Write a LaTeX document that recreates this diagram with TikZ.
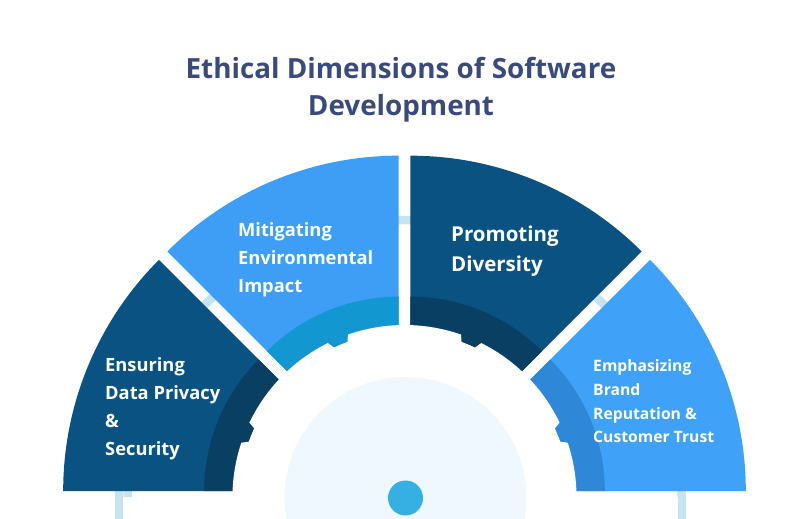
\documentclass[tikz,border=0pt]{standalone}
\usepackage{fontspec}
\setmainfont{Open Sans}
\definecolor{bgc}{HTML}{FFFFFF}
\definecolor{titlec}{HTML}{3A4A7C}
\definecolor{dk}{HTML}{0A5282}
\definecolor{dkband}{HTML}{093F63}
\definecolor{lt}{HTML}{3E9EF6}
\definecolor{ltband}{HTML}{1297D1}
\definecolor{ltb}{HTML}{3FA1F8}
\definecolor{ltbband}{HTML}{2F87D8}
\definecolor{ringc}{HTML}{C6E4F0}
\definecolor{palec}{HTML}{EFF8FE}
\definecolor{dotc}{HTML}{36B0E2}
\tikzset{
  lbl/.style={text=white, font=\bfseries, align=left, anchor=base west, inner sep=0pt},
  ringline/.style={draw=ringc, line width=8.5pt},
}
\begin{document}
\begin{tikzpicture}[x=1pt,y=1pt]
\useasboundingbox (0,0) rectangle (800,519);
\fill[bgc] (0,0) rectangle (800,519);
\coordinate (C) at (404.5,22);
% light ring behind the sectors
\begin{scope}[shift={(C)}]
  \draw[ringline] (0:277pt) arc[start angle=0,end angle=180,radius=277pt];
\end{scope}
\coordinate (rl1) at (119,0);
\coordinate (rl2) at (119,40);
\coordinate (rr1) at (682,0);
\coordinate (rr2) at (682,40);
\draw[ringline] (rl1) -- (rl2);
\draw[ringline] (rr1) -- (rr2);
% sectors
\begin{scope}[shift={(C)}]
\foreach \a/\b/\mc/\bc in {135/180/dk/dkband, 90/135/lt/ltband, 45/90/dk/dkband, 0/45/ltb/ltbband}{
  \pgfmathsetmacro\m{(\a+\b)/2}
  \begin{scope}[shift={(\m:15.5pt)}]
    \fill[\mc] (\a:150pt) -- (\a:327pt) arc[start angle=\a,end angle=\b,radius=327pt] -- (\b:150pt) arc[start angle=\b,end angle=\a,radius=150pt] -- cycle;
    \fill[\bc] (\a:150pt) -- (\a:186pt) arc[start angle=\a,end angle=\b,radius=186pt] -- (\b:150pt) arc[start angle=\b,end angle=\a,radius=150pt] -- cycle;
  \end{scope}
}
% white ratchet gear
\fill[white] (0:172pt) arc[start angle=0,end angle=18.4,radius=172pt] -- (22.2:152pt) -- (25.6:172pt)
  arc[start angle=25.6,end angle=63.5,radius=172pt] -- (67.6:152pt) -- (70.8:172pt)
  arc[start angle=70.8,end angle=109.2,radius=172pt] -- (112.4:152pt) -- (116.5:172pt)
  arc[start angle=116.5,end angle=154.4,radius=172pt] -- (157.8:152pt) -- (161.6:172pt)
  arc[start angle=161.6,end angle=360,radius=172pt] -- cycle;
\end{scope}
\coordinate (D) at (405.5,21);
\fill[palec] (D) circle[radius=121pt];
\node[circle, fill=dotc, minimum size=35pt, inner sep=0pt] (dot) at (D) {};
% title (anchor = baseline of last line)
\node[text=titlec, font=\fontsize{27.8}{37}\selectfont\bfseries, align=center, anchor=base, inner sep=0pt] (title) at (401,403)
  {Ethical Dimensions of Software\\Development};
% labels (anchor = baseline of last line)
\node[lbl, font=\fontsize{18.3}{28}\selectfont\bfseries] (l1) at (105,63) {Ensuring\\Data Privacy\\\&\\Security};
\node[lbl, font=\fontsize{18.3}{28}\selectfont\bfseries] (l2) at (238,226) {Mitigating\\Environmental\\Impact};
\node[lbl, font=\fontsize{20.5}{30}\selectfont\bfseries] (l3) at (451,247) {Promoting\\Diversity};
\node[lbl, font=\fontsize{15.7}{23.7}\selectfont\bfseries] (l4) at (593,76) {Emphasizing\\Brand\\Reputation \&\\Customer Trust};
\end{tikzpicture}
\end{document}
